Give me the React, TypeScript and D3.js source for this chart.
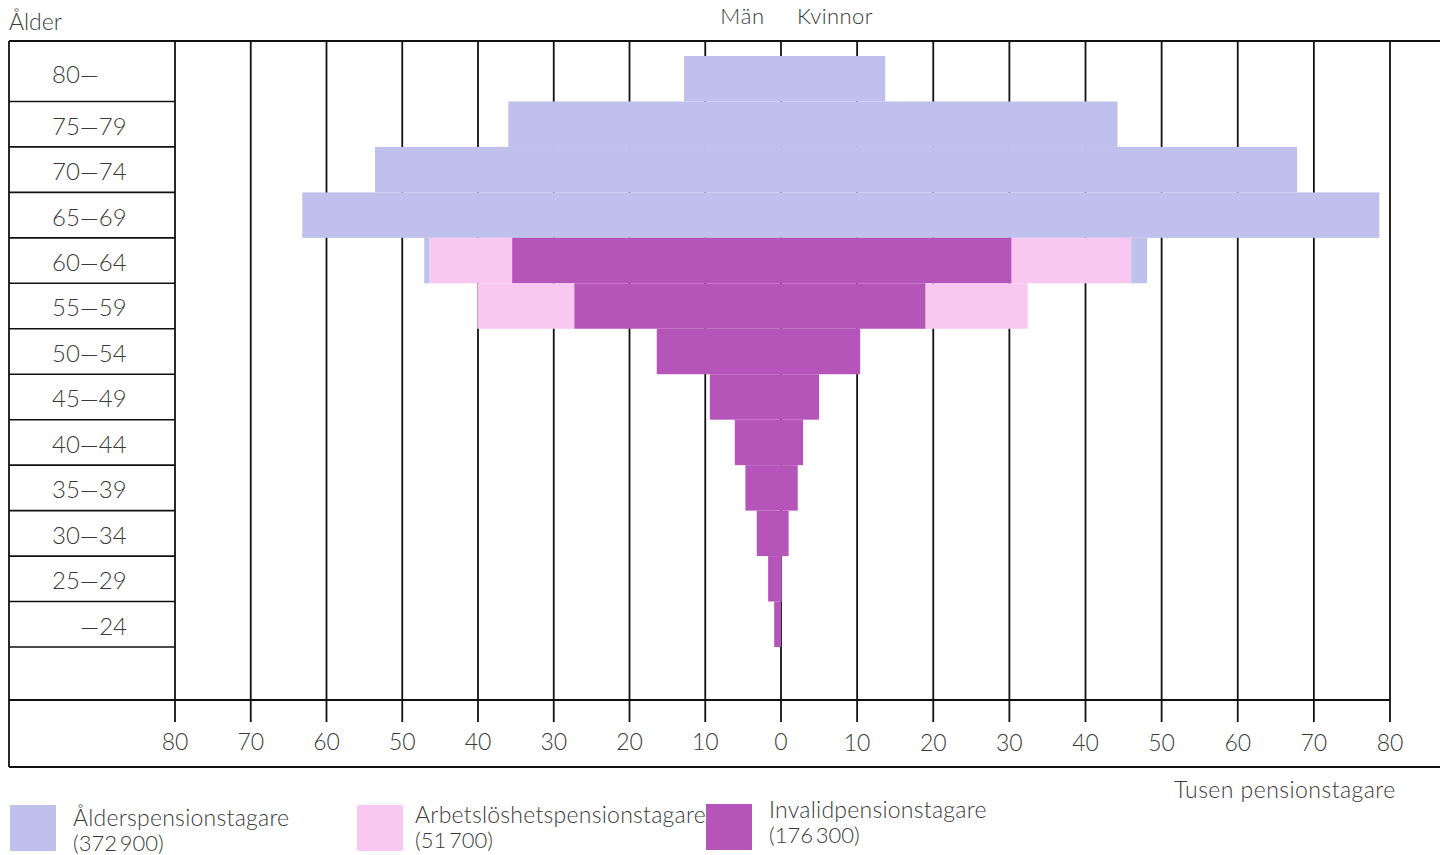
import React from "react";
import * as d3 from "d3";

// ---- Data (thousands of pensioners) ----
const ageGroups = ["80—", "75—79", "70—74", "65—69", "60—64", "55—59", "50—54", "45—49", "40—44", "35—39", "30—34", "25—29", "—24"];

// Men (left side), stacked from centre outwards: invalid, unemployment, old-age
const menInvalid = [0, 0, 0, 0, 35.5, 27.3, 16.4, 9.4, 6.1, 4.7, 3.2, 1.7, 0.9];
const menArbetslos = [0, 0, 0, 0, 10.9, 12.8, 0, 0, 0, 0, 0, 0, 0];
const menAlder = [12.8, 36.0, 53.6, 63.2, 0.7, 0, 0, 0, 0, 0, 0, 0, 0];

// Women (right side)
const womenInvalid = [0, 0, 0, 0, 30.3, 19.0, 10.4, 5.0, 2.9, 2.2, 1.0, 0.1, 0];
const womenArbetslos = [0, 0, 0, 0, 15.7, 13.4, 0, 0, 0, 0, 0, 0, 0];
const womenAlder = [13.7, 44.2, 67.8, 78.6, 2.1, 0, 0, 0, 0, 0, 0, 0, 0];

const tickValues = [80, 70, 60, 50, 40, 30, 20, 10];

const seriesNames = ["Ålderspensionstagare", "Arbetslöshetspensionstagare", "Invalidpensionstagare"];
const seriesTotals = ["(372\u2009900)", "(51\u2009700)", "(176\u2009300)"];
const seriesColors = ["#bfc0ec", "#f8c8f0", "#b655b9"];

const FONT = "Lato, 'Open Sans', sans-serif";
const TEXT = "#3a3a3a";

export default function App() {
  const W = 1440, H = 855;
  const xMen = d3.scaleLinear().domain([0, 80]).range([781, 175]);
  const xWomen = d3.scaleLinear().domain([0, 80]).range([781, 1390]);
  const y = d3.scaleBand<string>().domain(ageGroups).range([56, 647]).padding(0);

  const topY = 41, axisY = 700, tickEnd = 722, bottomY = 767, leftX = 9, colX = 175;

  // stacked segments
  const stacks: { x0: number; x1: number; yk: string; color: string; key: string }[] = [];
  ageGroups.forEach((g, i) => {
    const mVals = [menInvalid[i], menArbetslos[i], menAlder[i]];
    const wVals = [womenInvalid[i], womenArbetslos[i], womenAlder[i]];
    const cols = [seriesColors[2], seriesColors[1], seriesColors[0]];
    let accM = 0, accW = 0;
    mVals.forEach((v, j) => {
      if (v > 0) stacks.push({ x0: xMen(accM + v), x1: xMen(accM), yk: g, color: cols[j], key: `m${i}${j}` });
      accM += v;
    });
    wVals.forEach((v, j) => {
      if (v > 0) stacks.push({ x0: xWomen(accW), x1: xWomen(accW + v), yk: g, color: cols[j], key: `w${i}${j}` });
      accW += v;
    });
  });

  const bw = y.bandwidth();
  const gridX = [...tickValues.map((t) => xMen(t)), xMen(0), ...tickValues.slice().reverse().map((t) => xWomen(t))];

  return (
    <svg width={W} height={H} style={{ position: "absolute", left: 0, top: 0, display: "block", background: "#fff" }} fontFamily={FONT}>
      <rect x={0} y={0} width={W} height={H} fill="#fff" />
      {/* vertical grid lines */}
      {gridX.map((gx, i) => (
        <line key={`g${i}`} x1={gx} x2={gx} y1={topY} y2={tickEnd} stroke="#111" strokeWidth={1.8} />
      ))}
      {/* bars */}
      {stacks.map((s) => (
        <rect key={s.key} x={s.x0} y={y(s.yk)!} width={Math.max(0, s.x1 - s.x0)} height={bw} fill={s.color} />
      ))}
      {/* frame */}
      <line x1={leftX} x2={W} y1={topY} y2={topY} stroke="#111" strokeWidth={1.8} />
      <line x1={leftX} x2={W} y1={bottomY} y2={bottomY} stroke="#111" strokeWidth={1.8} />
      <line x1={leftX} x2={leftX} y1={topY} y2={bottomY} stroke="#111" strokeWidth={1.8} />
      <line x1={leftX} x2={xWomen(80)} y1={axisY} y2={axisY} stroke="#111" strokeWidth={1.8} />
      {/* row separators in label column */}
      {ageGroups.map((g) => (
        <line key={`s${g}`} x1={leftX} x2={colX} y1={y(g)! + bw} y2={y(g)! + bw} stroke="#111" strokeWidth={1.6} />
      ))}
      {/* age labels */}
      {ageGroups.map((g, i) => {
        const cy = i === 0 ? (topY + y(g)! + bw) / 2 + 3 : y(g)! + bw / 2 + 2;
        const anchor = g.startsWith("—") ? "end" : "start";
        const ax = anchor === "end" ? 127 : 52;
        return (
          <text key={`l${g}`} x={ax} y={cy} dy="0.35em" textAnchor={anchor} fontSize={24} fontWeight={300} fill={TEXT}>
            {g}
          </text>
        );
      })}
      {/* tick labels */}
      {tickValues.map((t) => (
        <text key={`tm${t}`} x={xMen(t)} y={750} textAnchor="middle" fontSize={23} fontWeight={300} fill={TEXT}>{t}</text>
      ))}
      <text x={xMen(0)} y={750} textAnchor="middle" fontSize={23} fontWeight={300} fill={TEXT}>0</text>
      {tickValues.map((t) => (
        <text key={`tw${t}`} x={xWomen(t)} y={751} textAnchor="middle" fontSize={23} fontWeight={300} fill={TEXT}>{t}</text>
      ))}
      {/* titles */}
      <text x={9} y={30} fontSize={23} fontWeight={300} fill={TEXT}>Ålder</text>
      <text x={765} y={24} textAnchor="end" fontSize={22} fontWeight={300} letterSpacing={0.8} fill={TEXT}>Män</text>
      <text x={797} y={24} fontSize={22} fontWeight={300} letterSpacing={0.4} fill={TEXT}>Kvinnor</text>
      <text x={1174} y={798} fontSize={23} fontWeight={300} letterSpacing={0.45} fill={TEXT}>Tusen pensionstagare</text>
      {/* legend */}
      {seriesNames.map((n, i) => {
        const sx = [10, 357, 706][i];
        const sy = [805, 805, 804][i];
        const tx = [73, 415, 769][i];
        const ty = [826, 823, 818][i];
        return (
          <g key={`lg${i}`}>
            <rect x={sx} y={sy} width={46} height={46} fill={seriesColors[i]} />
            <text x={tx} y={ty} fontSize={23} fontWeight={300} letterSpacing={0.25} fill={TEXT}>{n}</text>
            <text x={tx} y={ty + 25} fontSize={22} fontWeight={300} fill={TEXT}>{seriesTotals[i]}</text>
          </g>
        );
      })}
    </svg>
  );
}
